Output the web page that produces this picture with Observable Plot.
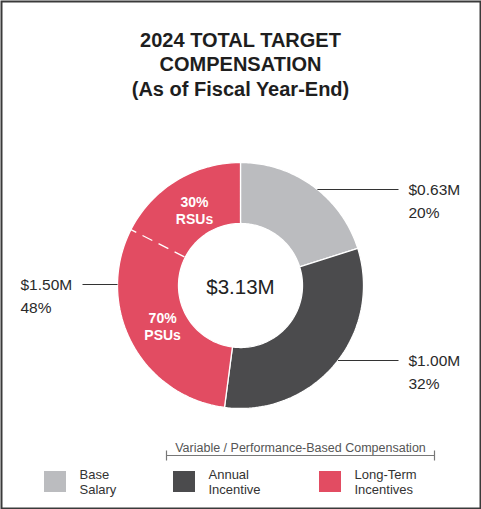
<!DOCTYPE html>
<html>
<head>
<meta charset="utf-8">
<script src="https://cdn.jsdelivr.net/npm/d3@7"></script>
<script src="https://cdn.jsdelivr.net/npm/@observablehq/plot@0.6"></script>
<style>
  body { margin: 0; background: #fff; }
  #chart svg { display: block; font-family: "Liberation Sans", Arial, sans-serif; }
</style>
</head>
<body>
<div id="chart"></div>
<script>
// datos
const categories = ["Base Salary", "Annual Incentive", "Long-Term Incentives"]
const amounts = [0.63, 1.00, 1.50]          // $M
const shares = [20, 32, 48]                 // % of total
const colors = ["#bbbcbf", "#4b4b4d", "#e24c62"]
const ltiParts = ["RSUs", "PSUs"]
const ltiPcts = [30, 70]
const ltiDrawnRsuShare = 36.5               // % of the LTI arc at the dashed line, as drawn in the picture
const totalLabel = "$3.13M"
const titleLines = ["2024 TOTAL TARGET", "COMPENSATION", "(As of Fiscal Year-End)"]
const legendLabels = ["Base\nSalary", "Annual\nIncentive", "Long-Term\nIncentives"]
const bracketLabel = "Variable / Performance-Based Compensation"

// geometria (pixeles)
const cx = 240, cy = 285, R = 123, r0 = 62
const pt = (a, rad) => ({x: cx + rad * Math.sin(a), y: cy - rad * Math.cos(a)})

const slices = d3.pie().sort(null).value(d => d.amount)(
  categories.map((c, i) => ({category: c, amount: amounts[i], share: shares[i], color: colors[i]}))
)

// contorno de cada porcion del anillo
const arcPoints = slices.flatMap(s => {
  const n = 80
  const outer = d3.range(n + 1).map(k => pt(s.startAngle + (s.endAngle - s.startAngle) * k / n, R))
  const inner = d3.range(n + 1).map(k => pt(s.endAngle - (s.endAngle - s.startAngle) * k / n, r0))
  return [...outer, ...inner, outer[0]].map(p => ({...p, key: s.data.category, color: s.data.color}))
})

// division RSUs / PSUs dentro de Long-Term
const lti = slices[2]
const splitAngle = lti.endAngle - (lti.endAngle - lti.startAngle) * ltiDrawnRsuShare / 100
const dashLine = [{a: pt(splitAngle, r0 + 1), b: pt(splitAngle, R)}]
const ltiLabels = [
  {text: `${ltiPcts[0]}%\n${ltiParts[0]}`, a: (splitAngle + lti.endAngle) / 2},
  {text: `${ltiPcts[1]}%\n${ltiParts[1]}`, a: (lti.startAngle + splitAngle) / 2}
].map(d => ({...d, ...pt(d.a, 88)}))

// etiquetas externas
const labelY = [189, 360, 284]
const callouts = slices.map((s, i) => {
  const y = labelY[i]
  const right = i < 2
  const edge = cx + (right ? 1 : -1) * Math.sqrt(R * R - (y - cy) ** 2)
  return {
    y, x1: right ? edge : 82, x2: right ? 398 : edge,
    tx: right ? 408 : 20, ty: y + 28,
    text: `$${s.data.amount.toFixed(2)}M\n${s.data.share}%`
  }
})

const legend = categories.map((c, i) => ({x: [44, 173, 319][i], color: colors[i], text: legendLabels[i]}))

const chart = Plot.plot({
  width: 481,
  height: 509,
  margin: 0,
  x: {type: "identity", axis: null},
  y: {type: "identity", axis: null},
  color: {type: "identity"},
  marks: [
    Plot.frame({stroke: "#3a3a3a", strokeWidth: 2, inset: 1}),
    Plot.text(titleLines, {x: 240, y: (d, i) => 46 + i * 24.5, text: d => d, fontSize: 20, fontWeight: "bold", fill: "#1e1e1e", lineAnchor: "bottom"}),
    Plot.line(arcPoints, {x: "x", y: "y", z: "key", fill: "color", stroke: "white", strokeWidth: 1.3, curve: "linear"}),
    Plot.link(dashLine, {x1: d => d.a.x, y1: d => d.a.y, x2: d => d.b.x, y2: d => d.b.y, stroke: "white", strokeWidth: 1.3, strokeDasharray: "11,7"}),
    Plot.text(ltiLabels, {x: "x", y: "y", text: "text", fill: "white", fontSize: 14, fontWeight: "bold", lineHeight: 1.2}),
    Plot.text([totalLabel], {x: cx, y: cy + 8, text: d => d, fontSize: 20.5, fill: "#222", lineAnchor: "bottom"}),
    Plot.link(callouts, {x1: "x1", x2: "x2", y1: "y", y2: "y", stroke: "#333", strokeWidth: 1.2}),
    Plot.text(callouts, {x: "tx", y: "ty", text: "text", textAnchor: "start", fontSize: 15.5, fill: "#2a2a2a", lineAnchor: "bottom", lineHeight: 1.47}),
    // llave de compensacion variable
    Plot.link([{x1: 166, x2: 434}], {x1: "x1", x2: "x2", y1: 455, y2: 455, stroke: "#777", strokeWidth: 1.2}),
    Plot.link([166, 434], {x1: d => d, x2: d => d, y1: 450, y2: 460, stroke: "#777", strokeWidth: 1.2}),
    Plot.text([bracketLabel], {x: 300, y: 451, text: d => d, fontSize: 12.5, fill: "#555", lineAnchor: "bottom"}),
    // leyenda
    Plot.rect(legend, {x1: "x", x2: d => d.x + 22, y1: 471, y2: 492, fill: "color"}),
    Plot.text(legend, {x: d => d.x + 35, y: 493, text: "text", textAnchor: "start", fontSize: 13, fill: "#333", lineAnchor: "bottom", lineHeight: 1.15})
  ]
})

d3.select('#chart').append(() => chart)
</script>
</body>
</html>
